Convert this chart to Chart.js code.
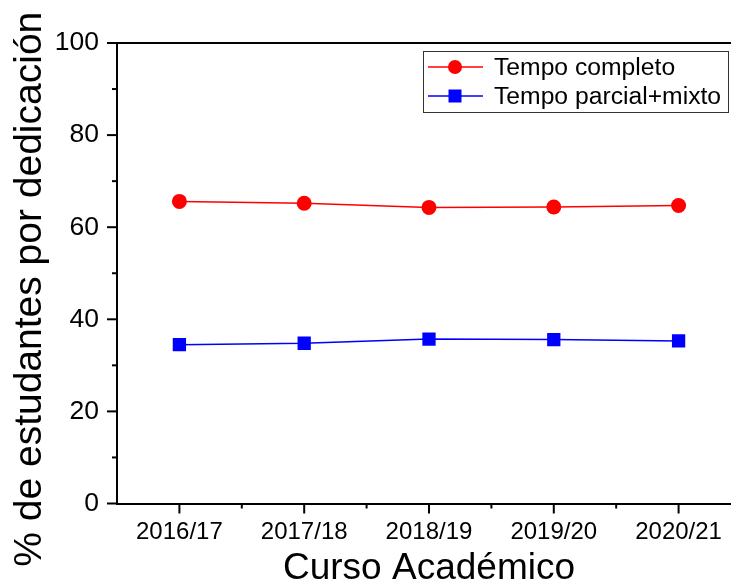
<!DOCTYPE html>
<html>
<head>
<meta charset="utf-8">
<script src="https://cdn.jsdelivr.net/npm/chart.js@4.4.0/dist/chart.umd.min.js"></script>
<style>
html,body{margin:0;padding:0;background:#fff;}
#wrap{width:731px;height:587px;}
</style>
</head>
<body>
<div id="wrap"><canvas id="c" width="731" height="587"></canvas></div>
<script>
const categories = ['2016/17', '2017/18', '2018/19', '2019/20', '2020/21'];
const tempoCompleto = [65.6, 65.2, 64.3, 64.4, 64.7];
const tempoParcialMixto = [34.5, 34.8, 35.7, 35.6, 35.3];
const seriesLabels = ['Tempo completo', 'Tempo parcial+mixto'];
const yTicks = [0, 20, 40, 60, 80, 100];
const yMinorTicks = [10, 30, 50, 70, 90];
const xMinorTicks = [1.5, 2.5, 3.5, 4.5];
const yTitle = '% de estudantes por dedicación';
const xTitle = 'Curso Académico';

const FONT = '"Liberation Sans", Arial, sans-serif';

const toPoints = arr => arr.map((v, i) => ({x: i + 1, y: v}));

const framePlugin = {
  id: 'frame',
  afterDraw(chart) {
    const ctx = chart.ctx;
    const ca = chart.chartArea;
    const xs = chart.scales.x, ys = chart.scales.y;
    ctx.save();
    ctx.strokeStyle = '#000';
    ctx.lineWidth = 2;
    // top line
    ctx.beginPath();
    ctx.moveTo(ca.left - 10, ca.top);
    ctx.lineTo(ca.right, ca.top);
    ctx.stroke();
    // y ticks
    yTicks.forEach(v => {
      const p = ys.getPixelForValue(v);
      ctx.beginPath(); ctx.moveTo(ca.left - 10, p); ctx.lineTo(ca.left, p); ctx.stroke();
    });
    yMinorTicks.forEach(v => {
      const p = ys.getPixelForValue(v);
      ctx.beginPath(); ctx.moveTo(ca.left - 5, p); ctx.lineTo(ca.left, p); ctx.stroke();
    });
    // x ticks
    categories.forEach((c, i) => {
      const p = xs.getPixelForValue(i + 1);
      ctx.beginPath(); ctx.moveTo(p, ca.bottom); ctx.lineTo(p, ca.bottom + 10); ctx.stroke();
    });
    xMinorTicks.forEach(v => {
      const p = xs.getPixelForValue(v);
      ctx.beginPath(); ctx.moveTo(p, ca.bottom); ctx.lineTo(p, ca.bottom + 5); ctx.stroke();
    });
    // axis titles
    ctx.fillStyle = '#000';
    ctx.textAlign = 'center';
    ctx.textBaseline = 'middle';
    ctx.font = '37px ' + FONT;
    ctx.fillText(xTitle, xs.getPixelForValue(3) + 0, 569);
    ctx.save();
    ctx.translate(30, ys.getPixelForValue(50) + 16);
    ctx.rotate(-Math.PI / 2);
    ctx.font = '39px ' + FONT;
    ctx.fillText(yTitle, 0, 0);
    ctx.restore();
    // legend
    const bx = ca.right - 308, by = ca.top + 8, bw = 305, bh = 61;
    ctx.lineWidth = 1;
    ctx.strokeStyle = '#333';
    ctx.strokeRect(bx + 0.5, by + 0.5, bw, bh);
    const rows = [by + 16, by + 45];
    chart.data.datasets.forEach((ds, i) => {
      const y = rows[i];
      ctx.strokeStyle = ds.borderColor;
      ctx.lineWidth = 1.5;
      ctx.beginPath(); ctx.moveTo(bx + 5, y); ctx.lineTo(bx + 60, y); ctx.stroke();
      ctx.fillStyle = ds.pointBackgroundColor;
      const cx = bx + 32;
      if (ds.pointStyle === 'circle') {
        ctx.beginPath(); ctx.arc(cx, y, 7, 0, Math.PI * 2); ctx.fill();
      } else {
        ctx.fillRect(cx - 6.5, y - 6.5, 13, 13);
      }
      ctx.fillStyle = '#000';
      ctx.font = '24.7px ' + FONT;
      ctx.textBaseline = 'middle';
      ctx.textAlign = 'left';
      ctx.fillText(ds.label, bx + 71, y + 1);
    });
    ctx.restore();
  }
};

new Chart(document.getElementById('c'), {
  type: 'line',
  data: {
    datasets: [
      {
        label: seriesLabels[0],
        data: toPoints(tempoCompleto),
        borderColor: '#ff0000',
        backgroundColor: '#ff0000',
        pointBackgroundColor: '#ff0000',
        pointBorderColor: '#ff0000',
        pointStyle: 'circle',
        pointRadius: 7.5,
        borderWidth: 1.5,
        pointBorderWidth: 0
      },
      {
        label: seriesLabels[1],
        data: toPoints(tempoParcialMixto),
        borderColor: '#0000ff',
        backgroundColor: '#0000ff',
        pointBackgroundColor: '#0000ff',
        pointBorderColor: '#0000ff',
        pointStyle: 'rect',
        pointRadius: 9.4,
        borderWidth: 1.5,
        pointBorderWidth: 0
      }
    ]
  },
  options: {
    responsive: false,
    animation: false,
    layout: {autoPadding: false, padding: {left: 0, right: 0, top: 43, bottom: 0}},
    plugins: {legend: {display: false}, tooltip: {enabled: false}},
    scales: {
      x: {
        type: 'linear',
        min: 0.5,
        max: 5.42,
        afterBuildTicks(scale) { scale.ticks = categories.map((c, i) => ({value: i + 1})); },
        afterFit(scale) { scale.height = 83.5; scale.paddingLeft = 0; scale.paddingRight = 0; },
        grid: {display: false, drawTicks: false},
        border: {display: true, color: '#000', width: 2},
        ticks: {
          padding: 0,
          color: '#000',
          font: {family: FONT, size: 24, lineHeight: 2.4},
          maxRotation: 0,
          autoSkip: false,
          callback: v => categories[Math.round(v) - 1]
        },
        title: {display: false}
      },
      y: {
        min: 0,
        max: 100,
        afterBuildTicks(scale) { scale.ticks = yTicks.map(v => ({value: v})); },
        afterFit(scale) { scale.width = 117; scale.paddingTop = 0; scale.paddingBottom = 0; },
        grid: {display: false, drawTicks: false},
        border: {display: true, color: '#000', width: 2},
        ticks: {
          padding: 18,
          color: '#000',
          font: {family: FONT, size: 26.5}
        },
        title: {display: false}
      }
    }
  },
  plugins: [framePlugin]
});
</script>
</body>
</html>
